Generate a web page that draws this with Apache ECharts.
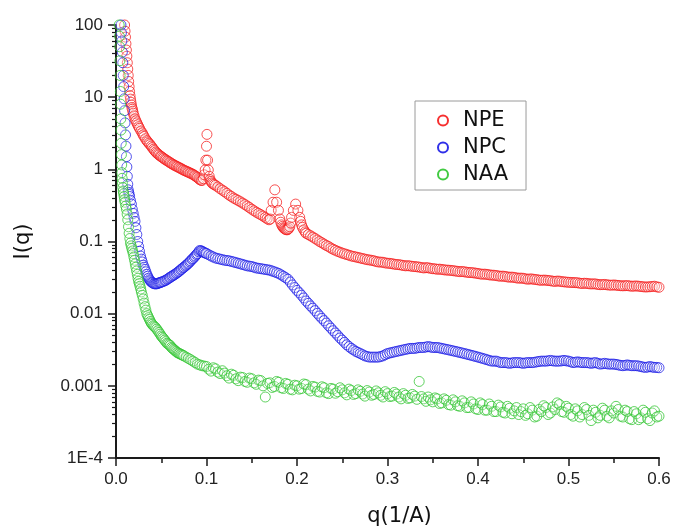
<!DOCTYPE html>
<html>
<head>
<meta charset="utf-8">
<script src="https://cdn.jsdelivr.net/npm/echarts@6/dist/echarts.min.js"></script>
<style>
  html, body { margin: 0; padding: 0; background: #fff; }
  #chart { width: 674px; height: 532px; }
</style>
</head>
<body>
<div id="chart"></div>
<script>
// Scattering intensity I(q) of three samples.
const seriesNames = ['NPE', 'NPC', 'NAA'];

// Low-q part of each curve, pairs of [q (1/A), I]
const npeHead = [
  [0.0090, 140], [0.0095, 100], [0.0100, 82], [0.0105, 68], [0.0110, 55], [0.0115, 45], [0.0120, 37],
  [0.0125, 30], [0.0130, 24.5], [0.0135, 20], [0.0140, 16.5], [0.0145, 14], [0.0150, 12], [0.0155, 10.5],
  [0.0160, 9.4], [0.0165, 8.5], [0.0170, 7.8], [0.0175, 7.2], [0.0180, 6.8], [0.0185, 6.4], [0.0190, 6.0],
  [0.0200, 5.5], [0.0210, 5.0], [0.0220, 4.7], [0.0230, 4.4], [0.0240, 4.15], [0.0250, 3.9], [0.0260, 3.7],
  [0.0275, 3.4], [0.0290, 3.2], [0.0300, 3.0], [0.0310, 2.85], [0.0325, 2.65], [0.0340, 2.5], [0.0350, 2.4],
  [0.0365, 2.3], [0.0375, 2.2], [0.0390, 2.1], [0.0400, 2.0], [0.0415, 1.9], [0.0425, 1.82], [0.0440, 1.74],
  [0.0450, 1.68], [0.0465, 1.63], [0.0475, 1.58], [0.0490, 1.53], [0.0500, 1.5], [0.0515, 1.46], [0.0525, 1.42],
  [0.0540, 1.38], [0.0550, 1.35], [0.0565, 1.32], [0.0575, 1.29], [0.0590, 1.26], [0.0600, 1.23], [0.0615, 1.2],
  [0.0625, 1.18], [0.0640, 1.15], [0.0650, 1.13], [0.0665, 1.11], [0.0675, 1.09], [0.0690, 1.07], [0.0700, 1.05],
  [0.0715, 1.03], [0.0725, 1.01], [0.0740, 0.99], [0.0750, 0.97], [0.0765, 0.955], [0.0775, 0.94], [0.0790, 0.925],
  [0.0800, 0.91], [0.0815, 0.895], [0.0825, 0.88], [0.0840, 0.865], [0.0850, 0.85], [0.0865, 0.83], [0.0875, 0.81],
  [0.0890, 0.79], [0.0900, 0.77], [0.0915, 0.745], [0.0925, 0.72], [0.0940, 0.705], [0.0950, 0.70],
  [0.0965, 0.74], [0.0975, 0.84], [0.0985, 0.98], [0.0993, 1.34], [0.1000, 2.09], [0.1005, 3.05],
  [0.1012, 1.34], [0.1020, 0.98], [0.1030, 0.80], [0.1040, 0.72], [0.1050, 0.68], [0.1060, 0.65], [0.1070, 0.63],
  [0.1085, 0.615], [0.1100, 0.60], [0.1125, 0.57], [0.1150, 0.54], [0.1175, 0.515], [0.1200, 0.49], [0.1225, 0.465],
  [0.1250, 0.44], [0.1275, 0.42], [0.1300, 0.40], [0.1325, 0.385], [0.1350, 0.37], [0.1375, 0.355], [0.1400, 0.34],
  [0.1425, 0.325], [0.1450, 0.31], [0.1475, 0.295], [0.1500, 0.28], [0.1525, 0.267], [0.1550, 0.255], [0.1575, 0.245],
  [0.1600, 0.235], [0.1625, 0.225], [0.1650, 0.215], [0.1670, 0.207], [0.1690, 0.20],
  [0.1705, 0.205], [0.1715, 0.27], [0.1735, 0.35], [0.1755, 0.52], [0.1775, 0.35], [0.1795, 0.27], [0.1810, 0.205],
  [0.1820, 0.185], [0.1830, 0.17], [0.1840, 0.162], [0.1850, 0.155], [0.1860, 0.151], [0.1870, 0.148],
  [0.1880, 0.146], [0.1890, 0.145], [0.1900, 0.147], [0.1910, 0.152], [0.1920, 0.16], [0.1930, 0.18],
  [0.1940, 0.216], [0.1960, 0.27], [0.1985, 0.33], [0.2010, 0.27], [0.2030, 0.216], [0.2040, 0.19],
  [0.2050, 0.17], [0.2060, 0.157], [0.2075, 0.145], [0.2090, 0.136]
];

const npcHead = [
  [0.0050, 140], [0.0055, 100], [0.0060, 78], [0.0065, 60], [0.0070, 42], [0.0075, 30], [0.0080, 20],
  [0.0085, 14], [0.0090, 9.5], [0.0095, 6.5], [0.0100, 4.4], [0.0105, 3.0], [0.0110, 2.1], [0.0115, 1.5],
  [0.0120, 1.08], [0.0125, 0.8], [0.0130, 0.62], [0.0135, 0.52], [0.0140, 0.48], [0.0145, 0.45], [0.0150, 0.42],
  [0.0160, 0.37], [0.0170, 0.33], [0.0180, 0.28], [0.0190, 0.245], [0.0200, 0.215], [0.0210, 0.19], [0.0220, 0.155],
  [0.0230, 0.125], [0.0240, 0.10], [0.0250, 0.085], [0.0260, 0.073], [0.0270, 0.063], [0.0280, 0.057],
  [0.0290, 0.052], [0.0300, 0.047], [0.0310, 0.044], [0.0320, 0.041], [0.0330, 0.038], [0.0340, 0.035],
  [0.0350, 0.033], [0.0360, 0.031], [0.0370, 0.0295], [0.0380, 0.0285], [0.0390, 0.0275], [0.0400, 0.027],
  [0.0410, 0.0265], [0.0420, 0.026], [0.0430, 0.026], [0.0440, 0.0258], [0.0450, 0.026], [0.0460, 0.0262],
  [0.0470, 0.0265], [0.0480, 0.0268], [0.0490, 0.027], [0.0500, 0.0273], [0.0510, 0.0277], [0.0525, 0.028],
  [0.0540, 0.0287], [0.0550, 0.029], [0.0565, 0.0298], [0.0575, 0.0305], [0.0590, 0.0313], [0.0600, 0.032],
  [0.0615, 0.0328], [0.0625, 0.0335], [0.0640, 0.0343], [0.0650, 0.035], [0.0665, 0.036], [0.0675, 0.037],
  [0.0690, 0.038], [0.0700, 0.039], [0.0715, 0.0405], [0.0725, 0.0415], [0.0740, 0.043], [0.0750, 0.044],
  [0.0765, 0.0455], [0.0775, 0.047], [0.0790, 0.0485], [0.0800, 0.050], [0.0815, 0.052], [0.0825, 0.054],
  [0.0840, 0.0565], [0.0850, 0.058], [0.0865, 0.0605], [0.0875, 0.063], [0.0890, 0.066], [0.0900, 0.068],
  [0.0915, 0.072], [0.0925, 0.075], [0.0940, 0.0745], [0.0950, 0.073], [0.0965, 0.0715], [0.0975, 0.070],
  [0.0990, 0.069], [0.1000, 0.068], [0.1025, 0.0655], [0.1050, 0.063], [0.1075, 0.061], [0.1100, 0.059],
  [0.1125, 0.058], [0.1150, 0.057], [0.1175, 0.056], [0.1200, 0.055], [0.1225, 0.0545], [0.1250, 0.054],
  [0.1275, 0.053], [0.1300, 0.052], [0.1325, 0.051], [0.1350, 0.050], [0.1375, 0.049], [0.1400, 0.048],
  [0.1425, 0.047], [0.1450, 0.046], [0.1475, 0.0455], [0.1500, 0.045], [0.1525, 0.044], [0.1550, 0.043],
  [0.1575, 0.0425], [0.1600, 0.042], [0.1625, 0.0415], [0.1650, 0.041], [0.1675, 0.0405], [0.1700, 0.040],
  [0.1725, 0.039], [0.1750, 0.038], [0.1775, 0.037], [0.1800, 0.036], [0.1825, 0.0345], [0.1850, 0.033],
  [0.1875, 0.0315], [0.1900, 0.030], [0.1925, 0.0275], [0.1950, 0.025], [0.1975, 0.023], [0.2000, 0.021],
  [0.2025, 0.0195], [0.2050, 0.018], [0.2075, 0.0165]
];

const naaHead = [
  [0.0030, 140], [0.0035, 100], [0.0038, 70], [0.0040, 50], [0.0043, 32], [0.0045, 20], [0.0048, 12],
  [0.0050, 8], [0.0053, 5], [0.0055, 3.5], [0.0058, 2.3], [0.0060, 1.6], [0.0063, 1.15], [0.0065, 0.9],
  [0.0068, 0.75], [0.0070, 0.65], [0.0075, 0.56], [0.0080, 0.5], [0.0085, 0.46], [0.0090, 0.42], [0.0095, 0.38],
  [0.0100, 0.35], [0.0108, 0.31], [0.0115, 0.28], [0.0123, 0.24], [0.0130, 0.20], [0.0138, 0.16], [0.0145, 0.13],
  [0.0153, 0.11], [0.0160, 0.095], [0.0168, 0.087], [0.0175, 0.08], [0.0183, 0.074], [0.0190, 0.068],
  [0.0198, 0.061], [0.0205, 0.055], [0.0213, 0.049], [0.0220, 0.044], [0.0228, 0.039], [0.0235, 0.035],
  [0.0243, 0.031], [0.0250, 0.028], [0.0258, 0.026], [0.0265, 0.024], [0.0273, 0.022], [0.0280, 0.020],
  [0.0290, 0.018], [0.0300, 0.016], [0.0310, 0.014], [0.0320, 0.0125], [0.0330, 0.0112], [0.0340, 0.0100],
  [0.0350, 0.0094], [0.0360, 0.0088], [0.0370, 0.0083], [0.0380, 0.0078], [0.0390, 0.0074], [0.0400, 0.0071],
  [0.0413, 0.0068], [0.0425, 0.0066], [0.0438, 0.0064], [0.0450, 0.0061], [0.0463, 0.0058], [0.0475, 0.0055],
  [0.0488, 0.0052], [0.0500, 0.0049], [0.0513, 0.0047], [0.0525, 0.0045], [0.0538, 0.0043], [0.0550, 0.0041],
  [0.0563, 0.0039], [0.0575, 0.0038], [0.0588, 0.0037], [0.0600, 0.0036], [0.0613, 0.0034], [0.0625, 0.0033],
  [0.0638, 0.0032], [0.0650, 0.0031], [0.0663, 0.0030], [0.0675, 0.0029], [0.0688, 0.00285], [0.0700, 0.0028],
  [0.0713, 0.00275], [0.0725, 0.0027], [0.0738, 0.00265], [0.0750, 0.0026], [0.0775, 0.0025], [0.0800, 0.0024],
  [0.0825, 0.0023], [0.0850, 0.0022], [0.0875, 0.0021], [0.0900, 0.0020], [0.0925, 0.00195], [0.0950, 0.0019],
  [0.0975, 0.00188], [0.1000, 0.00185], [0.1025, 0.00170], [0.1050, 0.00160], [0.1075, 0.00178], [0.1100, 0.00172],
  [0.1125, 0.00155], [0.1150, 0.00148], [0.1175, 0.00162], [0.1200, 0.00150], [0.1225, 0.00138], [0.1250, 0.00128],
  [0.1275, 0.00145], [0.1300, 0.00140], [0.1325, 0.00125], [0.1350, 0.00118], [0.1375, 0.00132], [0.1400, 0.00130],
  [0.1425, 0.00115], [0.1450, 0.00112], [0.1475, 0.00128], [0.1500, 0.00125], [0.1525, 0.00110], [0.1550, 0.00105],
  [0.1575, 0.00120], [0.1600, 0.00118], [0.1625, 0.00100], [0.1650, 0.00070], [0.1675, 0.00108], [0.1700, 0.00110],
  [0.1725, 0.00095], [0.1750, 0.00098], [0.1775, 0.00115], [0.1800, 0.00112], [0.1825, 0.00094], [0.1850, 0.00092],
  [0.1875, 0.00108], [0.1900, 0.00105], [0.1925, 0.00090], [0.1950, 0.00088], [0.1975, 0.00102], [0.2000, 0.00100],
  [0.2025, 0.00090], [0.2050, 0.00092], [0.2075, 0.00106]
];

// High-q part: shared q values and the intensity of each sample at them
const qTail = [
  0.2100, 0.2125, 0.2150, 0.2175, 0.2200, 0.2225, 0.2250, 0.2275,
  0.2300, 0.2325, 0.2350, 0.2375, 0.2400, 0.2425, 0.2450, 0.2475,
  0.2500, 0.2525, 0.2550, 0.2575, 0.2600, 0.2625, 0.2650, 0.2675,
  0.2700, 0.2725, 0.2750, 0.2775, 0.2800, 0.2825, 0.2850, 0.2875,
  0.2900, 0.2925, 0.2950, 0.2975, 0.3000, 0.3025, 0.3050, 0.3075,
  0.3100, 0.3125, 0.3150, 0.3175, 0.3200, 0.3225, 0.3250, 0.3275,
  0.3300, 0.3325, 0.3350, 0.3375, 0.3400, 0.3425, 0.3450, 0.3475,
  0.3500, 0.3525, 0.3550, 0.3575, 0.3600, 0.3625, 0.3650, 0.3675,
  0.3700, 0.3725, 0.3750, 0.3775, 0.3800, 0.3825, 0.3850, 0.3875,
  0.3900, 0.3925, 0.3950, 0.3975, 0.4000, 0.4025, 0.4050, 0.4075,
  0.4100, 0.4125, 0.4150, 0.4175, 0.4200, 0.4225, 0.4250, 0.4275,
  0.4300, 0.4325, 0.4350, 0.4375, 0.4400, 0.4425, 0.4450, 0.4475,
  0.4500, 0.4525, 0.4550, 0.4575, 0.4600, 0.4625, 0.4650, 0.4675,
  0.4700, 0.4725, 0.4750, 0.4775, 0.4800, 0.4825, 0.4850, 0.4875,
  0.4900, 0.4925, 0.4950, 0.4975, 0.5000, 0.5025, 0.5050, 0.5075,
  0.5100, 0.5125, 0.5150, 0.5175, 0.5200, 0.5225, 0.5250, 0.5275,
  0.5300, 0.5325, 0.5350, 0.5375, 0.5400, 0.5425, 0.5450, 0.5475,
  0.5500, 0.5525, 0.5550, 0.5575, 0.5600, 0.5625, 0.5650, 0.5675,
  0.5700, 0.5725, 0.5750, 0.5775, 0.5800, 0.5825, 0.5850, 0.5875,
  0.5900, 0.5925, 0.5950, 0.5975, 0.6000
];

const npeTail = [
  0.130, 0.125, 0.120, 0.115, 0.110, 0.105, 0.100, 0.096,
  0.092, 0.088, 0.085, 0.081, 0.078, 0.0755, 0.073, 0.071,
  0.069, 0.0675, 0.066, 0.0645, 0.063, 0.062, 0.061, 0.060,
  0.059, 0.058, 0.057, 0.056, 0.0555, 0.0548, 0.054, 0.0528,
  0.052, 0.0518, 0.0515, 0.0505, 0.050, 0.0498, 0.0492, 0.0485,
  0.048, 0.0478, 0.0472, 0.0465, 0.046, 0.0462, 0.0458, 0.0452,
  0.045, 0.0446, 0.0442, 0.0436, 0.043, 0.0434, 0.0432, 0.0425,
  0.042, 0.0418, 0.0412, 0.0414, 0.041, 0.0405, 0.0402, 0.0400,
  0.0398, 0.0394, 0.0390, 0.0386, 0.0382, 0.0384, 0.0380, 0.0375,
  0.0372, 0.0371, 0.0368, 0.0364, 0.0360, 0.0355, 0.0352, 0.0353,
  0.0350, 0.0345, 0.0342, 0.0341, 0.0338, 0.0333, 0.0330, 0.0331,
  0.0328, 0.0323, 0.0320, 0.0321, 0.0318, 0.0313, 0.0310, 0.0311,
  0.0309, 0.0304, 0.0300, 0.0303, 0.0302, 0.0298, 0.0296, 0.0292,
  0.0290, 0.0292, 0.0291, 0.0288, 0.0286, 0.0282, 0.0280, 0.0283,
  0.0282, 0.0278, 0.0276, 0.0274, 0.0272, 0.0271, 0.0270, 0.0269,
  0.0268, 0.0264, 0.0262, 0.0264, 0.0263, 0.0260, 0.0258, 0.0259,
  0.0258, 0.0254, 0.0252, 0.0253, 0.0254, 0.0251, 0.0249, 0.0248,
  0.0250, 0.0248, 0.0246, 0.0244, 0.0243, 0.0244, 0.0245, 0.0242,
  0.0240, 0.0241, 0.0242, 0.0240, 0.0238, 0.0236, 0.0234, 0.0235,
  0.0236, 0.0238, 0.0240, 0.0235, 0.0232
];

const npcTail = [
  0.0150, 0.0139, 0.0128, 0.0119, 0.0110, 0.0101, 0.0093, 0.0086,
  0.0080, 0.0074, 0.0068, 0.0063, 0.0058, 0.0054, 0.0050, 0.0046,
  0.0043, 0.0040, 0.0037, 0.0035, 0.0033, 0.00315, 0.0030, 0.0029,
  0.0028, 0.0027, 0.0026, 0.00255, 0.0025, 0.0025, 0.0025, 0.0025,
  0.0025, 0.00255, 0.0026, 0.0027, 0.0028, 0.00285, 0.0029, 0.00295,
  0.0030, 0.00305, 0.0031, 0.00315, 0.0032, 0.00325, 0.0033, 0.0033,
  0.0033, 0.00335, 0.0034, 0.0034, 0.0034, 0.00345, 0.0035, 0.00345,
  0.0034, 0.0034, 0.0034, 0.00335, 0.0033, 0.00325, 0.0032, 0.00315,
  0.0031, 0.00305, 0.0030, 0.00295, 0.0029, 0.00285, 0.0028, 0.00275,
  0.0027, 0.00265, 0.0026, 0.00255, 0.0025, 0.00245, 0.0024, 0.00235,
  0.0023, 0.00225, 0.0022, 0.0022, 0.0022, 0.00215, 0.0021, 0.0021,
  0.0021, 0.00208, 0.00205, 0.00208, 0.0021, 0.0021, 0.0021, 0.00208,
  0.00205, 0.00208, 0.0021, 0.0021, 0.0021, 0.00212, 0.00215, 0.00218,
  0.0022, 0.0022, 0.0022, 0.00222, 0.00225, 0.00222, 0.0022, 0.0022,
  0.0022, 0.00222, 0.00225, 0.00222, 0.0022, 0.00215, 0.0021, 0.00212,
  0.00215, 0.00212, 0.0021, 0.0021, 0.0021, 0.00208, 0.00205, 0.00208,
  0.0021, 0.00205, 0.0020, 0.00202, 0.00205, 0.00202, 0.0020, 0.0020,
  0.0020, 0.00198, 0.00195, 0.00192, 0.0019, 0.00192, 0.00195, 0.00192,
  0.0019, 0.0019, 0.0019, 0.00188, 0.00185, 0.00182, 0.0018, 0.00182,
  0.00185, 0.00182, 0.0018, 0.0018, 0.00178
];

const naaTail = [
  0.00104, 0.00090, 0.00085, 0.00098, 0.00096, 0.00084, 0.00082, 0.00097,
  0.00094, 0.00080, 0.00078, 0.00092, 0.00090, 0.00079, 0.00083, 0.00094,
  0.00088, 0.00080, 0.00075, 0.00090, 0.00086, 0.00076, 0.00078, 0.00088,
  0.00084, 0.00077, 0.00072, 0.00086, 0.00082, 0.00074, 0.00076, 0.00085,
  0.00080, 0.00074, 0.00070, 0.00083, 0.00078, 0.00071, 0.00072, 0.00081,
  0.00077, 0.00070, 0.00066, 0.00078, 0.00074, 0.00067, 0.00068, 0.00076,
  0.00072, 0.00065, 0.00115, 0.00071, 0.00066, 0.00061, 0.00070, 0.00064,
  0.00060, 0.00068, 0.00066, 0.00057, 0.00058, 0.00066, 0.00063, 0.00055,
  0.00054, 0.00064, 0.00060, 0.00053, 0.00052, 0.00062, 0.00058, 0.00050,
  0.00050, 0.00060, 0.00056, 0.00048, 0.00047, 0.00058, 0.00055, 0.00046,
  0.00046, 0.00056, 0.00052, 0.00044, 0.00044, 0.00054, 0.00051, 0.00043,
  0.00042, 0.00052, 0.00049, 0.00041, 0.00045, 0.00050, 0.00040, 0.00044,
  0.00048, 0.00039, 0.00041, 0.00050, 0.00046, 0.00037, 0.00038, 0.00047,
  0.00044, 0.00053, 0.00050, 0.00040, 0.00042, 0.00051, 0.00047, 0.00058,
  0.00055, 0.00044, 0.00043, 0.00052, 0.00049, 0.00040, 0.00038, 0.00048,
  0.00045, 0.00037, 0.00040, 0.00050, 0.00047, 0.00039, 0.00033, 0.00046,
  0.00043, 0.00036, 0.00039, 0.00049, 0.00046, 0.00038, 0.00036, 0.00045,
  0.00042, 0.00052, 0.00047, 0.00038, 0.00037, 0.00046, 0.00044, 0.00035,
  0.00034, 0.00044, 0.00041, 0.00034, 0.00036, 0.00046, 0.00043, 0.00035,
  0.00033, 0.00042, 0.00045, 0.00037, 0.00038
];

// Tick labels of the logarithmic intensity axis, from 1E-4 up to 100
const yTickLabels = ['1E-4', '0.001', '0.01', '0.1', '1', '10', '100'];
const xTickLabels = ['0.0', '0.1', '0.2', '0.3', '0.4', '0.5', '0.6'];

// Minor ticks at 2..9 within every decade
const minorTickValues = [];
for (let d = -4; d < 2; d++) {
  for (let m = 2; m <= 9; m++) minorTickValues.push(m * Math.pow(10, d));
}

function joinCurve(head, tail) {
  return head.concat(qTail.map(function (q, i) { return [q, tail[i]]; }));
}

const colors = ['#f51a1a', '#1a1ae6', '#2ec42e'];
const axisColor = '#1a1a1a';
const tickFont = 'Liberation Sans, Arial, sans-serif';
const titleFont = 'DejaVu Sans, sans-serif';

const chart = echarts.init(document.getElementById('chart'), null, { renderer: 'canvas' });

function scatter(name, data, color) {
  return {
    name: name,
    type: 'scatter',
    data: data,
    symbol: 'circle',
    symbolSize: 10,
    clip: true,
    itemStyle: {
      color: 'rgba(255,255,255,0.2)',
      borderColor: color,
      borderWidth: 0.85,
      opacity: 0.9
    },
    emphasis: { disabled: true }
  };
}

chart.setOption({
  animation: false,
  backgroundColor: '#fff',
  grid: { left: 116, right: 15, top: 25, bottom: 68, containLabel: false },
  legend: {
    data: seriesNames,
    orient: 'vertical',
    left: 415,
    top: 101,
    padding: [9, 18, 5, 22],
    itemGap: 6,
    itemWidth: 30,
    itemHeight: 10,
    borderColor: '#9a9a9a',
    borderWidth: 1,
    borderRadius: 0,
    textStyle: { fontFamily: titleFont, fontSize: 21, color: '#111', lineHeight: 20 }
  },
  xAxis: {
    type: 'value',
    min: 0,
    max: 0.6,
    interval: 0.1,
    name: 'q(1/A)',
    nameLocation: 'middle',
    nameGap: 48,
    nameTextStyle: { fontFamily: titleFont, fontSize: 21, color: '#111', padding: [0, 0, 0, 24] },
    axisLine: { show: true, onZero: false, lineStyle: { color: axisColor, width: 2 } },
    axisTick: { show: true, inside: false, length: 8, lineStyle: { color: axisColor, width: 1.5 } },
    minorTick: { show: true, splitNumber: 2, length: 5, lineStyle: { color: axisColor, width: 1.5 } },
    axisLabel: {
      margin: 13,
      fontFamily: tickFont,
      fontSize: 17,
      color: '#222',
      formatter: function (v) { return xTickLabels[Math.round(v * 10)]; }
    },
    splitLine: { show: false },
    minorSplitLine: { show: false }
  },
  yAxis: [
    {
      type: 'log',
      logBase: 10,
      min: 1e-4,
      max: 100,
      name: 'I(q)',
      nameLocation: 'middle',
      nameGap: 82,
      nameTextStyle: { fontFamily: titleFont, fontSize: 21, color: '#111' },
      axisLine: { show: true, onZero: false, lineStyle: { color: axisColor, width: 2 } },
      axisTick: { show: true, inside: false, length: 8, lineStyle: { color: axisColor, width: 1.5 } },
      axisLabel: {
        margin: 13,
        fontFamily: tickFont,
        fontSize: 17,
        color: '#222',
        formatter: function (v) { return yTickLabels[Math.round(Math.log10(v)) + 4]; }
      },
      splitLine: { show: false }
    },
    {
      type: 'log',
      logBase: 10,
      min: 1e-4,
      max: 100,
      position: 'left',
      axisLine: { show: false },
      axisLabel: { show: false },
      axisTick: {
        show: true,
        inside: false,
        length: 4,
        customValues: minorTickValues,
        lineStyle: { color: axisColor, width: 1.2 }
      },
      splitLine: { show: false }
    }
  ],
  series: [
    scatter(seriesNames[0], joinCurve(npeHead, npeTail), colors[0]),
    scatter(seriesNames[1], joinCurve(npcHead, npcTail), colors[1]),
    scatter(seriesNames[2], joinCurve(naaHead, naaTail), colors[2])
  ]
});
</script>
</body>
</html>
